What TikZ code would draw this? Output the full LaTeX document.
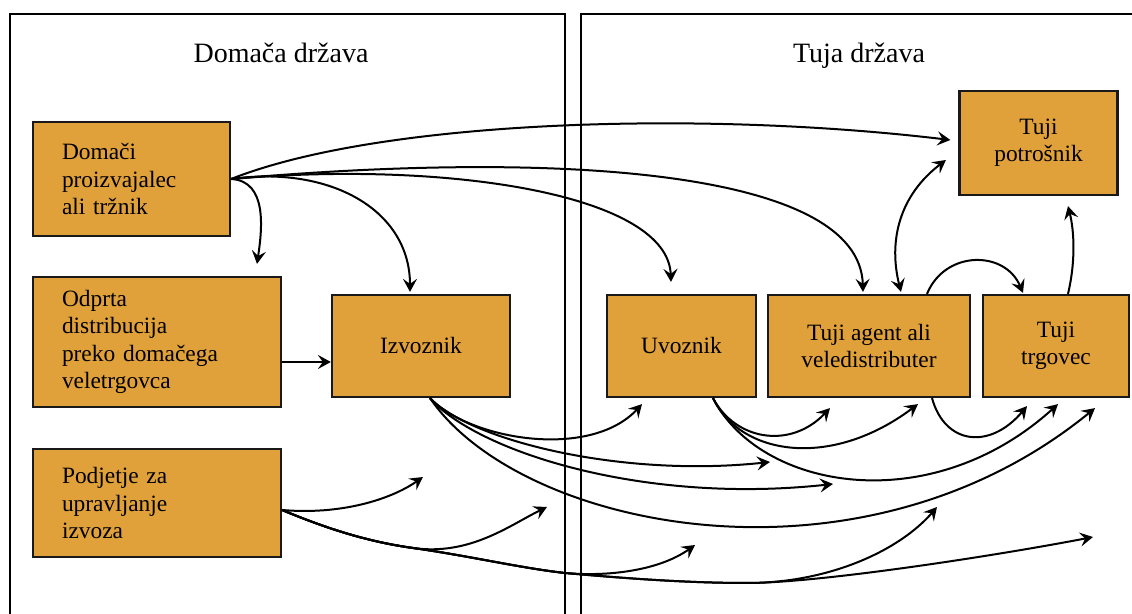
\documentclass[tikz,border=0pt]{standalone}
\usepackage{fontspec}
\setmainfont{Liberation Serif}
\usetikzlibrary{arrows.meta, calc, positioning}
\definecolor{boxorange}{RGB}{224,160,58}
\tikzset{box/.style={draw=black!90, line width=1.1pt, fill=boxorange, inner sep=2pt, font=\fontsize{11.7}{13.75}\selectfont}}
\tikzset{lbox/.style={box, align=left, inner xsep=14.5pt}}
\tikzset{cbox/.style={box, align=center}}
\tikzset{arr/.style={-{Stealth[length=6.5pt, width=7pt, inset=2.5pt]}, line width=1pt}}
\tikzset{darr/.style={{Stealth[length=6.5pt, width=7pt, inset=2.5pt]}-{Stealth[length=6.5pt, width=7pt, inset=2.5pt]}, line width=1pt}}
\tikzset{panel/.style={line width=1pt}}

\begin{document}
\begin{tikzpicture}[x=0.5pt, y=-0.5pt]
    \useasboundingbox (0, 0) rectangle (1132, 614);
    \clip (0, 0) rectangle (1132, 614);

    % the two countries
    \draw[panel] (10, 14) rectangle (565, 640);
    \draw[panel] (581, 14) rectangle (1145, 640);
    \node[anchor=base, font=\fontsize{14}{16}\selectfont] (home) at (281, 63) {Domača država};
    \node[anchor=base, font=\fontsize{14}{16}\selectfont] (abroad) at (859, 63) {Tuja država};

    \node[lbox, text width=69.5pt, minimum height=57pt] (dom) at (131.5, 179) {Domači\\proizvajalec\\ali tržnik};
    \node[lbox, text width=95pt, minimum height=65pt] (odp) at (157, 342) {Odprta\\distribucija\\preko domačega\\veletrgovca};
    \node[lbox, text width=95pt, minimum height=54pt] (pod) at (157, 503) {Podjetje za\\upravljanje\\izvoza};
    \node[cbox, minimum width=89pt, minimum height=51pt] (izv) at (421, 346) {Izvoznik};

    \node[cbox, minimum width=74.5pt, minimum height=51pt] (uvo) at (681.5, 346) {Uvoznik};
    \node[cbox, minimum width=101pt, minimum height=51pt] (agt) at (869, 346) {Tuji agent ali\\veledistributer};
    \node[cbox, minimum width=73pt, minimum height=51pt] (trg) at (1056, 346) {Tuji\\trgovec};
    \node[cbox, minimum width=79pt, minimum height=52pt] (pot) at (1038.5, 143) {Tuji\\potrošnik};

    % free arrow ends and branch points
    \coordinate (e1) at (770, 462);
    \coordinate (e2) at (833, 484);
    \coordinate (e3) at (423, 477);
    \coordinate (e4) at (547, 507);
    \coordinate (e5) at (695, 545);
    \coordinate (e6) at (937, 507);
    \coordinate (e7) at (1093, 537);
    \coordinate (b1) at (413, 548);
    \coordinate (b2) at (565, 573);
    \coordinate (b3) at (747, 583);

    % domestic producer
    \draw[arr] (dom.east) .. controls (268, 181) and (262, 230) .. ($(odp.north)+(100, -12)$);
    \draw[arr] (dom.east) .. controls (330, 165) and (410, 210) .. ($(izv.north)+(-11, -2)$);
    \draw[arr] (dom.east) .. controls (450, 160) and (668, 195) .. ($(uvo.north)+(-10.5, -12)$);
    \draw[arr] (dom.east) .. controls (560, 150) and (860, 170) .. ($(agt.north)+(-6, -2)$);
    \draw[arr] (dom.east) .. controls (380, 120) and (700, 110) .. ($(pot.west)+(-8, -3)$);

    \coordinate (oe) at ($(odp.east)+(0, 20)$);
    \draw[arr] (oe) -- (oe -| izv.west);

    % foreign market
    \draw[darr] ($(agt.north)+(32, -2)$) .. controls (888, 240) and (900, 195) .. ($(pot.west)+(-12.5, 17)$);
    \draw[arr] ($(agt.north)+(58, 0)$) .. controls (945, 250) and (1005, 250) .. ($(trg.north)+(-33, -1)$);
    \draw[arr] ($(trg.north)+(12, 0)$) .. controls (1076, 260) and (1074, 230) .. ($(pot.south)+(29.5, 10)$);

    % exporter
    \coordinate (is) at ($(izv.south)+(9, 0)$);
    \draw[arr] (is) .. controls (470, 440) and (590, 460) .. ($(uvo.south)+(-39.5, 6)$);
    \draw[arr] (is) .. controls (470, 440) and (620, 478) .. (e1);
    \draw[arr] (is) .. controls (475, 450) and (640, 505) .. (e2);
    \draw[arr] (is) .. controls (520, 530) and (860, 600) .. ($(trg.south)+(39, 10)$);

    % importer
    \coordinate (us) at ($(uvo.south)+(31.5, 0)$);
    \draw[arr] (us) .. controls (735, 440) and (790, 450) .. ($(agt.south)+(-39, 10)$);
    \draw[arr] (us) .. controls (740, 455) and (830, 470) .. ($(agt.south)+(49, 6)$);
    \draw[arr] (us) .. controls (760, 490) and (930, 520) .. ($(trg.south)+(2, 6)$);

    \draw[arr] ($(agt.south)+(63, 0)$) .. controls (945, 445) and (990, 450) .. ($(trg.south)+(-29, 8)$);

    % export management company
    \coordinate (pe) at ($(pod.east)+(0, 7)$);
    \draw[arr] (pe) .. controls (340, 515) and (390, 500) .. (e3);
    \draw[arr] (pe) .. controls (330, 530) and (370, 542) .. (b1) .. controls (470, 556) and (510, 525) .. (e4);
    \draw[arr] (pe) .. controls (330, 530) and (370, 542) .. (b1) .. controls (470, 556) and (520, 568) .. (b2)
        .. controls (610, 577) and (660, 570) .. (e5);
    \draw[arr] (pe) .. controls (330, 530) and (370, 542) .. (b1) .. controls (470, 556) and (520, 568) .. (b2)
        .. controls (610, 577) and (680, 583) .. (b3) .. controls (830, 583) and (900, 550) .. (e6);
    \draw[arr] (pe) .. controls (330, 530) and (370, 542) .. (b1) .. controls (470, 556) and (520, 568) .. (b2)
        .. controls (610, 577) and (680, 583) .. (b3) .. controls (820, 583) and (1000, 555) .. (e7);
\end{tikzpicture}
\end{document}
